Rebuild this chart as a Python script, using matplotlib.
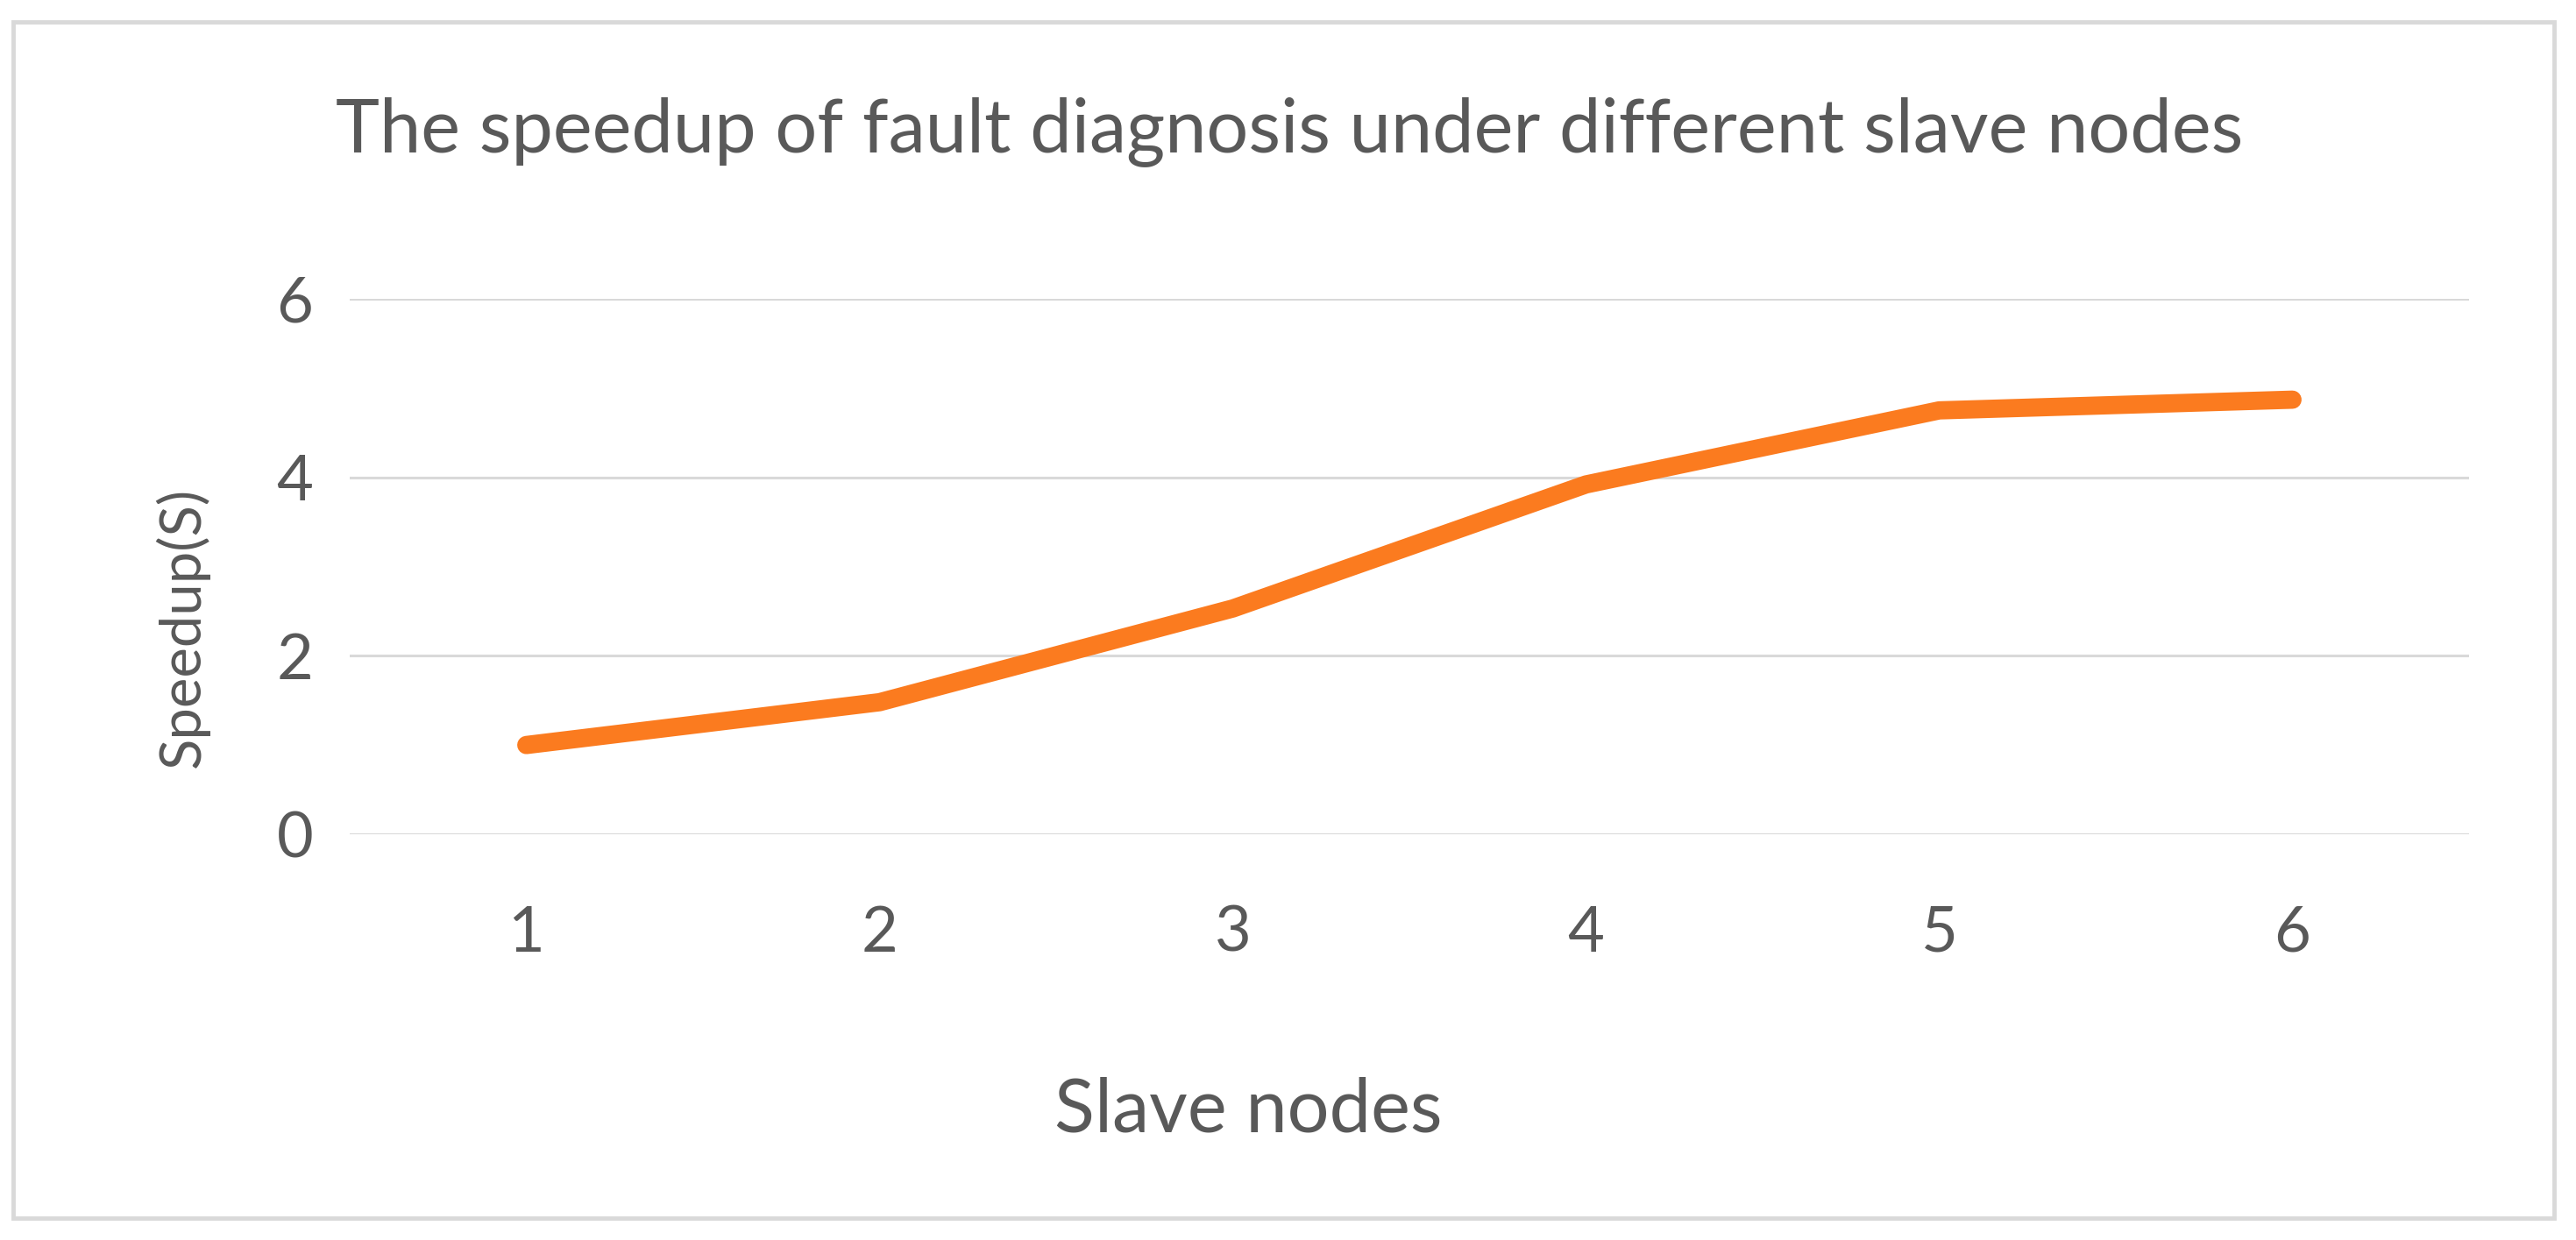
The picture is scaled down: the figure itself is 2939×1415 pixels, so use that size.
import matplotlib.pyplot as plt
from matplotlib.patches import Rectangle

nodes = [1, 2, 3, 4, 5, 6]
speedup = [1.0, 1.48, 2.53, 3.92, 4.75, 4.87]
yticks = [0, 2, 4, 6]

W, H = 2939, 1415


def main():
    fig = plt.figure(figsize=(W / 100, H / 100), dpi=100)
    fig.patch.set_facecolor("white")

    # outer chart frame
    fig.patches.append(Rectangle((15 / W, 25 / H), 2899 / W, 1365 / H,
                                 transform=fig.transFigure, fill=False,
                                 edgecolor="#d9d9d9", linewidth=3.5))

    ax = fig.add_axes([399 / W, 1 - 952 / H, 2418 / W, 611 / H])
    ax.set_xlim(0.5, 6.5)
    ax.set_ylim(0, 6)
    for s in ax.spines.values():
        s.set_visible(False)
    ax.set_yticks(yticks)
    ax.set_xticks(nodes)
    ax.grid(axis="y", color="#d9d9d9", linewidth=2.2)
    ax.set_axisbelow(True)
    ax.tick_params(length=0, labelsize=52, labelcolor="#595959")
    ax.tick_params(axis="x", pad=58)
    ax.tick_params(axis="y", pad=30)
    for lbl in ax.get_xticklabels() + ax.get_yticklabels():
        lbl.set_family("Lato")

    ax.plot(nodes, speedup, color="#fb7b1f", linewidth=15,
            solid_capstyle="round", solid_joinstyle="round", clip_on=False)

    fig.text(1471 / W, 1 - 150 / H,
             "The speedup of fault diagnosis under different slave nodes",
             ha="center", va="center", fontsize=61, color="#595959",
             family="Lato")
    fig.text(1424 / W, 1 - 1268 / H, "Slave nodes", ha="center", va="center",
             fontsize=61, color="#595959", family="Lato")
    fig.text(208 / W, 1 - 716 / H, "Speedup(S)", ha="center", va="center",
             rotation=90, fontsize=47, color="#595959", family="Lato")

    fig.savefig("out.png", dpi=100)


if __name__ == "__main__":
    main()
